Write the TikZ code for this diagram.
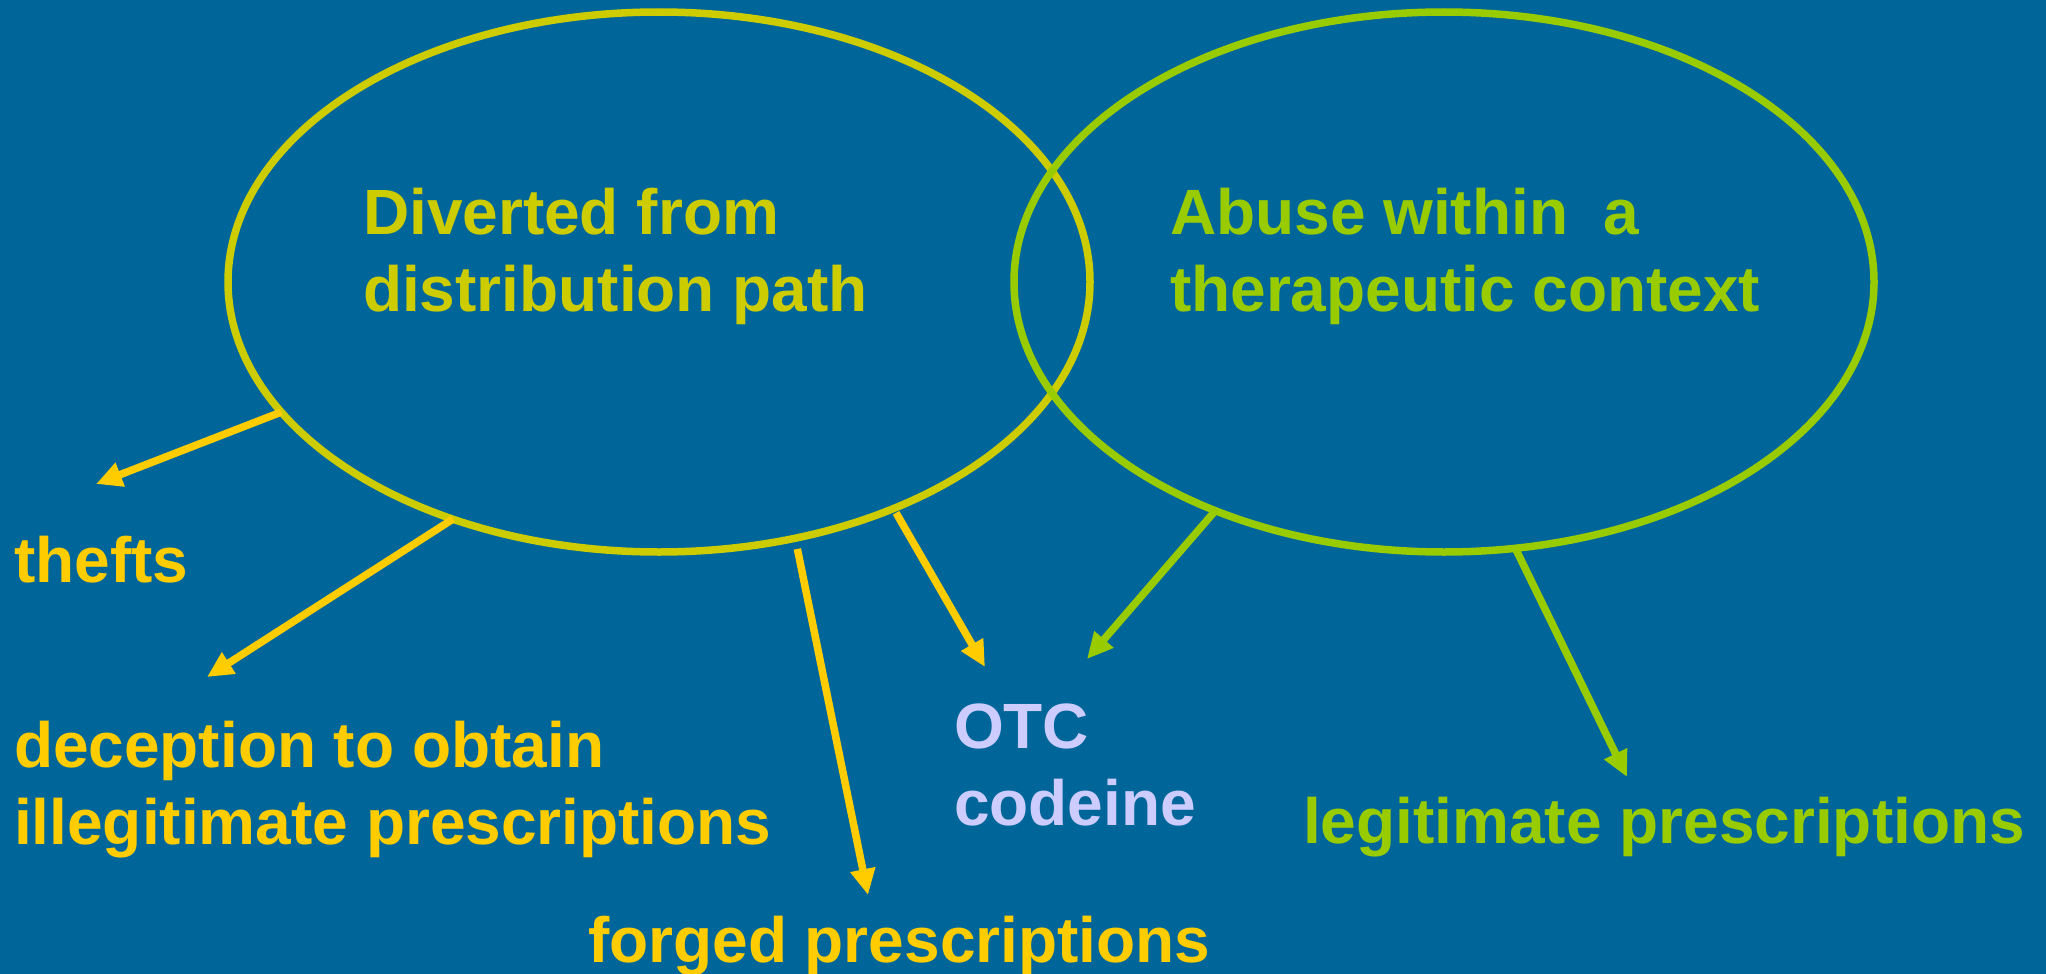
\documentclass[tikz,border=0pt]{standalone}
\usepackage{fontspec}
\setmainfont{Liberation Sans}
\usetikzlibrary{arrows.meta,shapes.geometric}
\definecolor{cBg}{HTML}{006699}
\definecolor{cDiv}{HTML}{CCCC00}
\definecolor{cAbu}{HTML}{99CC00}
\definecolor{cArr}{HTML}{FFCC00}
\definecolor{cOtc}{HTML}{CCCCFF}
\begin{document}
\begin{tikzpicture}[x=1pt,y=-1pt,
  lbl/.style={anchor=base west, inner sep=0pt, outer sep=0pt, font=\fontsize{64}{77}\selectfont\bfseries},
  ring/.style={ellipse, draw, line width=7.5pt, minimum height=540pt, inner sep=0pt, outer sep=0pt},
  arr/.style={line width=7.5pt, -{Triangle[length=26pt,width=24pt]}},
]
\fill[cBg] (0,0) rectangle (2046,974);
\useasboundingbox (0,0) rectangle (2046,974);

% ellipses
\node[ring, draw=cDiv, minimum width=862pt] (L) at (659,282) {};
\node[ring, draw=cAbu, minimum width=860pt] (R) at (1444,282) {};

% titles
\node[lbl, text=cDiv] (tL) at (363,234) {\vtop{\hbox{Diverted from}\hbox{distribution path}}};
\node[lbl, text=cAbu] (tR) at (1170,234) {\vtop{\hbox{Abuse within\ \ a}\hbox{therapeutic context}}};

% labels
\node[lbl, text=cArr] (theft) at (14,582) {thefts};
\node[lbl, text=cArr] (decep) at (14,767) {\vtop{\hbox{deception to obtain}\hbox{illegitimate prescriptions}}};
\node[lbl, text=cArr] (forged) at (588,962) {forged prescriptions};
\node[lbl, text=cOtc] (otc) at (954,748) {\vtop{\hbox{OTC}\hbox{codeine}}};
\node[lbl, text=cAbu] (legit) at (1303,843) {legitimate prescriptions};

% arrow tips
\coordinate (t1) at (96,484);
\coordinate (t2) at (207,677);
\coordinate (t3) at (868,895);
\coordinate (t4) at (985,667);
\coordinate (t5) at (1087,659);
\coordinate (t6) at (1627,777);

% arrows
\draw[arr, draw=cArr, fill=cArr] (L.199.9) -- (t1);
\draw[arr, draw=cArr, fill=cArr] (L.229.7) -- (t2);
\draw[arr, draw=cArr, fill=cArr, shorten <=11pt] (L.298.3) -- (t3);
\draw[arr, draw=cArr, fill=cArr, shorten <=5pt] (L.316.2) -- (t4);
\draw[arr, draw=cAbu, fill=cAbu] (R.225.4) -- (t5);
\draw[arr, draw=cAbu, fill=cAbu] (R.285.5) -- (t6);
\end{tikzpicture}
\end{document}
